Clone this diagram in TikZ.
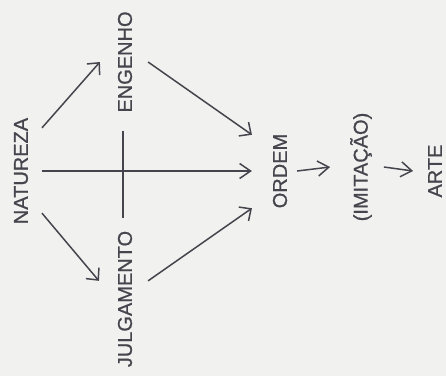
\documentclass[tikz,border=0pt]{standalone}
\usepackage{fontspec}
\setmainfont{Liberation Sans}
\newfontfamily\scanfont{Liberation Sans}[FakeBold=0.7]
\usetikzlibrary{arrows.meta}
\definecolor{ink}{RGB}{70,68,76}
\definecolor{paper}{RGB}{241,241,240}
\tikzset{
  word/.style={inner sep=0pt, outer sep=0pt, text=ink, font=\scanfont\fontsize{20}{20}\selectfont},
  link/.style={draw=ink, line width=1.5pt},
  diagarrow/.style={link, -{Straight Barb[length=9pt,width=17pt,line width=1.5pt]}},
  flatarrow/.style={link, -{Straight Barb[length=11pt,width=15pt,line width=1.5pt]}}
}
\newcommand{\vtext}[1]{\rotatebox{90}{#1}}
\begin{document}
\begin{tikzpicture}[x=1pt,y=-1pt]
\fill[paper] (0,0) rectangle (446,376);
\useasboundingbox (0,0) rectangle (446,376);
\node[word] (natureza)   at (21,171)  {\vtext{NATUREZA}};
\node[word] (engenho)    at (125,62)  {\vtext{ENGENHO}};
\node[word] (julgamento) at (125,299) {\vtext{JULGAMENTO}};
\node[word] (ordem)      at (280,171) {\vtext{ORDEM}};
\node[word] (imitacao)   at (361,167) {\vtext{(IMITAÇÃO)}};
\node[word] (arte)       at (435,171) {\vtext{ARTE}};
% diagonals
\draw[diagarrow] ([shift={(14,10)}]natureza.north east) -- ([shift={(-18,0)}]engenho.west);
\draw[diagarrow] ([shift={(14,-11)}]natureza.south east) -- ([shift={(-19,50)}]julgamento.north west);
\draw[diagarrow] ([shift={(16,0)}]engenho.east) -- ([shift={(-21,1)}]ordem.north west);
\draw[diagarrow] ([shift={(16,50)}]julgamento.north east) -- ([shift={(-21,0)}]ordem.south west);
% cross
\draw[flatarrow] ([xshift=14]natureza.east) -- ([xshift=-21]ordem.west);
\draw[link] ([shift={(-2,18)}]engenho.south) -- ([shift={(-2,-13)}]julgamento.north);
% chain
\draw[flatarrow] ([xshift=10]ordem.east) -- ([xshift=-20]imitacao.west);
\draw[flatarrow] ([xshift=12]imitacao.east) -- ([xshift=-15]arte.west);
\end{tikzpicture}
\end{document}
